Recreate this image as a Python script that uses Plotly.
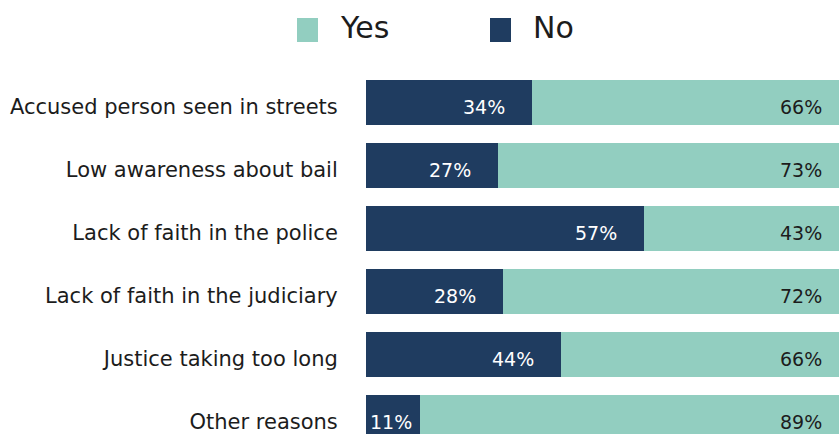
import plotly.graph_objects as go

# Reasons for not approaching the system, split by Yes / No answers
categories = [
    "Accused person seen in streets",
    "Low awareness about bail",
    "Lack of faith in the police",
    "Lack of faith in the judiciary",
    "Justice taking too long",
    "Other reasons",
]
no_vals = [34, 27, 57, 28, 44, 11]
yes_vals = [66, 73, 43, 72, 66, 89]
legend_order = ["Yes", "No"]

NAVY = "#1f3c60"
TEAL = "#92cec0"
TEXT_DARK = "#1c1c1c"
FONT = "DejaVu Sans"

W, H = 839, 434
M_L, M_R, M_T, M_B = 366, 0, 71, 0
plot_w = W - M_L - M_R
plot_h = H - M_T - M_B
PX_PER_PCT = 4.88           # horizontal scale of the 100%-normalised bars
ROW_PX = 63                 # vertical pitch of one category row
x_max = plot_w / PX_PER_PCT
y_bottom = -0.5 + plot_h / ROW_PX

colors = {"No": NAVY, "Yes": TEAL}
values = {"No": no_vals, "Yes": yes_vals}

fig = go.Figure()
for name in ["No", "Yes"]:
    fig.add_trace(go.Bar(
        y=categories, x=values[name], orientation="h", name=name,
        marker=dict(color=colors[name], line=dict(width=0)),
        hoverinfo="skip", showlegend=False,
    ))

annotations = []
for cat, n, y in zip(categories, no_vals, yes_vals):
    share = 100 * n / (n + y)
    if share >= 15:
        pos = dict(x=share, xanchor="right", xshift=-25)
    else:
        pos = dict(x=share / 2, xanchor="center", xshift=-2)
    annotations.append(dict(
        xref="x", yref="y", y=cat, text=f"{n}%", showarrow=False,
        font=dict(family=FONT, size=19, color="white"), yshift=-4, **pos,
    ))
    annotations.append(dict(
        xref="x domain", yref="y", x=1, y=cat, text=f"{y}%", showarrow=False,
        xanchor="right", xshift=-15, yshift=-4,
        font=dict(family=FONT, size=19, color=TEXT_DARK),
    ))


def px_x(p):
    return (p - M_L) / plot_w


def px_y(p):
    return (H - M_B - p) / plot_h


# Custom legend with large swatches above the bars
shapes = []
legend_x = {"Yes": 297, "No": 490}
for name in legend_order:
    x0 = legend_x[name]
    shapes.append(dict(
        type="rect", xref="paper", yref="paper",
        x0=px_x(x0), x1=px_x(x0 + 21), y0=px_y(42), y1=px_y(18),
        fillcolor=colors[name], line=dict(width=0), layer="above",
    ))
    annotations.append(dict(
        xref="paper", yref="paper", x=px_x(x0 + 41), y=px_y(27),
        xanchor="left", yanchor="middle", text=name, showarrow=False,
        font=dict(family=FONT, size=30, color=TEXT_DARK),
    ))

fig.update_layout(
    barmode="stack", barnorm="percent", bargap=0.286,
    width=W, height=H, margin=dict(l=M_L, r=M_R, t=M_T, b=M_B, pad=0),
    plot_bgcolor="white", paper_bgcolor="white",
    showlegend=False, annotations=annotations, shapes=shapes,
)
fig.update_xaxes(range=[0, x_max], visible=False, fixedrange=True)
fig.update_yaxes(
    type="category", categoryorder="array", categoryarray=categories,
    range=[y_bottom, -0.5], showgrid=False, zeroline=False, showline=False,
    ticks="outside", ticklen=23, tickcolor="rgba(0,0,0,0)", ticklabelshift=-4,
    tickfont=dict(family=FONT, size=21, color=TEXT_DARK), fixedrange=True,
)

fig.write_html("out.html", config={"displayModeBar": False})
